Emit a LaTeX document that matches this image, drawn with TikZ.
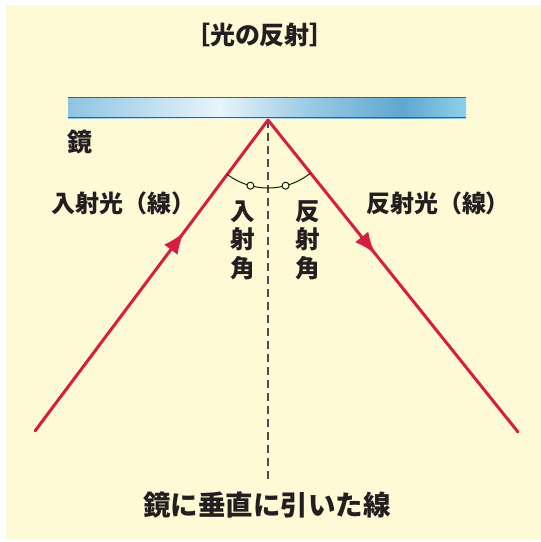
\documentclass[tikz,border=0pt]{standalone}
\usepackage{fontspec}
\newfontfamily\jp{Noto Sans CJK JP}
\usetikzlibrary{arrows.meta,decorations.markings}
\definecolor{cream}{HTML}{FFFAD6}
\definecolor{rayred}{HTML}{D61E40}
\definecolor{ink}{HTML}{231F20}
\definecolor{mA}{HTML}{8EC4E2}
\definecolor{mB}{HTML}{E8F4FA}
\definecolor{mC}{HTML}{9CCBE6}
\definecolor{mD}{HTML}{5FA7D0}
\definecolor{mE}{HTML}{8ED0EA}
\pgfdeclarehorizontalshading{mirrorshade}{100bp}{color(0bp)=(mA); color(25bp)=(mA); color(44bp)=(mB); color(55bp)=(mC); color(67bp)=(mD); color(75bp)=(mE); color(100bp)=(mE)}
\tikzset{
  lbl/.style={font=\jp\bfseries\fontsize{24}{28}\selectfont, text=ink, inner sep=0pt, align=center},
  vlbl/.style={lbl, font=\jp\bfseries\fontsize{24.5}{28.5}\selectfont},
  ray/.style={draw=rayred, line width=3pt, line cap=round},
  rayarrow/.style={postaction={decorate}, decoration={markings, mark=at position #1 with {\arrow[rayred]{Latex[length=22pt,width=17pt]}}}},
  normalline/.style={draw=ink!80, line width=1.6pt, dash pattern=on 8pt off 5pt},
  anglemark/.style={draw=ink!75!green!40!black, line width=1pt},
  anglepin/.style={circle, draw=ink!75!green!40!black, fill=cream, line width=1pt, inner sep=0pt, minimum size=7pt}
}
\begin{document}
\begin{tikzpicture}[x=1pt,y=-1pt]
\useasboundingbox (0,0) rectangle (541,542);
\fill[white] (0,0) rectangle (541,542);
\fill[cream] (6,5) rectangle (541,540);
% title
\node[lbl, font=\jp\bfseries\fontsize{25}{28}\selectfont] (title) at (260,35) {［光の反射］};
% mirror
\shade[shading=mirrorshade] (68,97) rectangle (466,118);
\draw[gray!70!black, line width=1.5pt] (68,97.5) -- (466,97.5);
\draw[gray!70!black, line width=1.5pt] (68,117.5) -- (466,117.5);
\node[lbl, font=\jp\bfseries\fontsize{25}{28}\selectfont] (mirror) at (80,142) {鏡};
% points
\coordinate (P) at (268,120);
\coordinate (L) at (35,431);
\coordinate (R) at (518,432);
\coordinate (N) at (268,483);
% normal
\draw[normalline] (P) -- (N);
% rays
\draw[ray, rayarrow=0.64] (L) -- (P);
\draw[ray, rayarrow=0.43] (P) -- (R);
% angle mark
\draw[anglemark] plot[domain=126.8:51.3, samples=40, smooth] ({268+68*cos(\x)}, {120+68*sin(\x)});
\node[anglepin] (pinL) at ({268+68*cos(105)}, {120+68*sin(105)}) {};
\node[anglepin] (pinR) at ({268+68*cos(75)}, {120+68*sin(75)}) {};
% labels
\node[lbl] (inlbl) at (124,203) {入射光（線）};
\node[lbl] (outlbl) at (438,203) {反射光（線）};
\node[vlbl] (inang) at (243,240) {入\\射\\角};
\node[vlbl] (outang) at (308,240) {反\\射\\角};
\node[lbl, font=\jp\bfseries\fontsize{27.5}{30}\selectfont] (normlbl) at (267,505) {鏡に垂直に引いた線};
\end{tikzpicture}
\end{document}
